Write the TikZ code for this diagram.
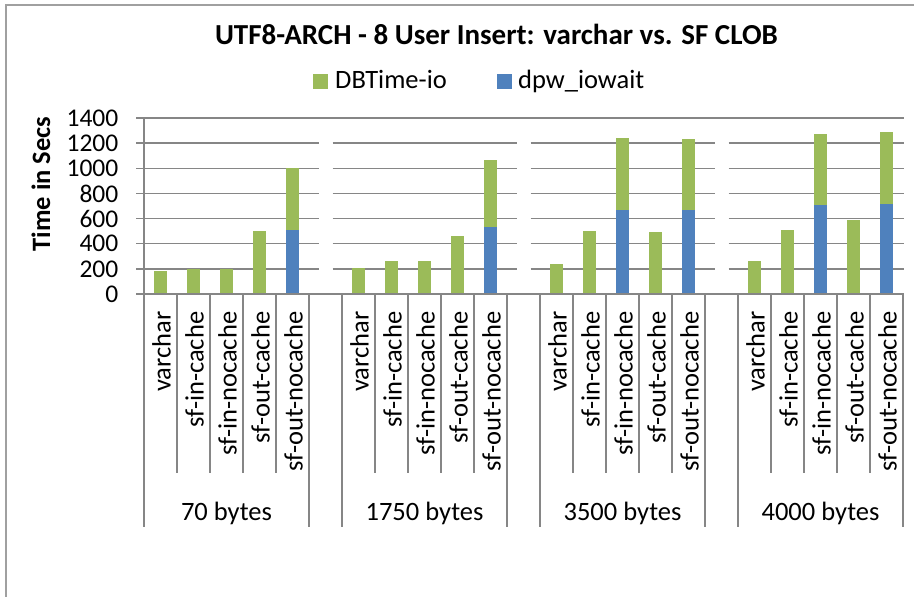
\documentclass[tikz,border=0pt]{standalone}
\usepackage{fontspec}
\setmainfont{Carlito}
\definecolor{iogreen}{HTML}{9BBB59}
\definecolor{waitblue}{HTML}{4F81BD}
\definecolor{rulegray}{HTML}{868686}
\definecolor{framegray}{HTML}{A0A0A0}
\begin{document}
\begin{tikzpicture}[x=1pt,y=-1pt,
  gridline/.style={draw=rulegray,line width=1.3pt},
  sepline/.style={draw=rulegray,line width=1.2pt},
  frameline/.style={draw=framegray,line width=1.5pt},
  lbl/.style={inner sep=0pt,font=\fontsize{26.5}{31}\selectfont},
  ticklbl/.style={inner sep=0pt,font=\fontsize{25.5}{30}\selectfont,anchor=east},
  catlbl/.style={lbl,rotate=90,anchor=east},
  grplbl/.style={lbl,anchor=base},
  bargreen/.style={fill=iogreen,draw=none},
  barblue/.style={fill=waitblue,draw=none},
  keybox/.style={minimum size=15pt,inner sep=0pt,draw=none}]
\useasboundingbox (0,0) rectangle (914,597);
\def\ys{0.125714}
% chart frame (left and top edges)
\draw[frameline] (6,597) -- (6,5) -- (914,5);
% title and legend
\node[lbl,anchor=base,font=\fontsize{29}{34}\selectfont\bfseries] (title) at (496.5,45) {UTF8-ARCH - 8 User Insert: varchar vs. SF CLOB};
\node[keybox,fill=iogreen] (k1) at (320.5,81.5) {};
\node[lbl,anchor=base west] (k1t) at (335,88) {DBTime-io};
\node[keybox,fill=waitblue] (k2) at (504.5,81.5) {};
\node[lbl,anchor=base west] (k2t) at (518,88) {dpw\_iowait};
% value axis title
\node[lbl,rotate=90,font=\fontsize{26.5}{31}\selectfont\bfseries] (ytitle) at (41,184) {Time in Secs};
% horizontal gridlines, broken at the empty slots between groups
\draw[gridline] (136,118) -- (904,118);
\foreach \v in {200,400,...,1200}{
  \draw[gridline] (136,{294-\v*\ys}) -- (318.5,{294-\v*\ys})
                  (332.5,{294-\v*\ys}) -- (516.5,{294-\v*\ys})
                  (530.5,{294-\v*\ys}) -- (714.5,{294-\v*\ys})
                  (728.5,{294-\v*\ys}) -- (904,{294-\v*\ys});
}
% value axis and tick labels
\draw[gridline] (144,118) -- (144,294);
\foreach \v in {0,200,...,1400}
  \node[ticklbl] (yl\v) at (118.5,{294-\v*\ys}) {\v};
% stacked bars: slot, total, lower (blue) part
\foreach \s/\t/\b in {0/185/0,1/200/0,2/200/0,3/505/0,4/1002/507,
                      6/207/0,7/262/0,8/262/0,9/463/0,10/1064/535,
                      12/238/0,13/501/0,14/1240/672,15/493/0,16/1236/666,
                      18/262/0,19/512/0,20/1272/705,21/591/0,22/1290/718}{
  \pgfmathsetmacro\cx{160.5+33*\s}
  \fill[barblue] ({\cx-6.5},294) rectangle ({\cx+6.5},{294-\b*\ys});
  \fill[bargreen] ({\cx-6.5},{294-\b*\ys}) rectangle ({\cx+6.5},{294-\t*\ys});
}
% category axis line
\draw[gridline] (136,294) -- (904,294);
% category separators: short inside a group, long at group edges
\foreach \k in {1,2,3,4,7,8,9,10,13,14,15,16,19,20,21,22}
  \draw[sepline] ({144+33*\k},294) -- ({144+33*\k},473);
\foreach \k in {0,5,6,11,12,17,18,23}
  \draw[sepline] ({144+33*\k},294) -- ({144+33*\k},527);
% category labels
\foreach \g in {0,1,2,3}{
  \foreach \n/\name [count=\i from 0] in {a/varchar,b/sf-in-cache,c/sf-in-nocache,d/sf-out-cache,e/sf-out-nocache}{
    \node[catlbl] (c\g\n) at ({161.5+33*(6*\g+\i)},311.5) {\name};
  }
}
% group labels
\node[grplbl] (g0) at (226.5,520) {70 bytes};
\node[grplbl] (g1) at (424.5,520) {1750 bytes};
\node[grplbl] (g2) at (622.5,520) {3500 bytes};
\node[grplbl] (g3) at (820.5,520) {4000 bytes};
\end{tikzpicture}
\end{document}
